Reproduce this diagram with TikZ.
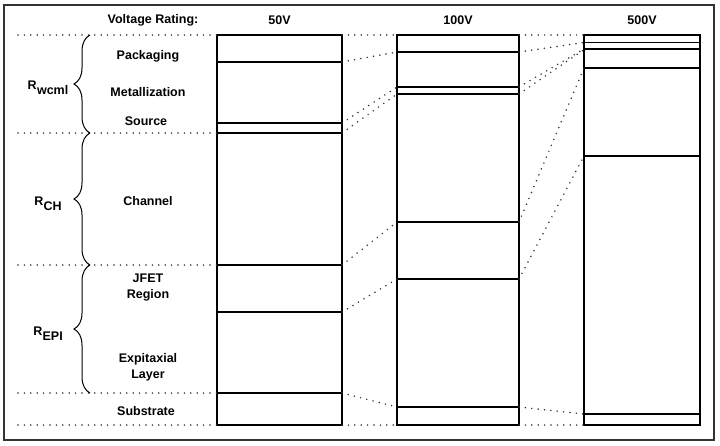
\documentclass[tikz,border=0pt]{standalone}
\usepackage{fontspec}
\setmainfont{Liberation Sans}
\usetikzlibrary{decorations.pathreplacing}
\begin{document}
\begin{tikzpicture}[x=1pt,y=-1pt,
  lbl/.style={font=\fontsize{12.5}{16}\selectfont\bfseries, align=center, inner sep=0pt},
  box/.style={draw=black, line width=1.3pt},
  dots/.style={line width=1.7pt, dash pattern=on 0pt off 6.4pt, line cap=round, black!80},
  brc/.style={decorate, decoration={brace, amplitude=16pt}, line width=1pt},
  frame/.style={draw=black!80, line width=1.5pt}]
\useasboundingbox (0,0) rectangle (720,445);
\draw[frame] (4,5) rectangle (714,440);

% column boundaries
\foreach \n/\y in {0/35,1/62,2/123,3/133,4/265,5/312,6/393,7/425} {
  \coordinate (AL\n) at (217,\y); \coordinate (AR\n) at (342,\y);}
\foreach \n/\y in {0/35,1/52,2/87,3/94,4/222,5/279,6/407,7/425} {
  \coordinate (BL\n) at (397,\y); \coordinate (BR\n) at (519,\y);}
\foreach \n/\y in {0/35,1/42.5,2/49,3/49.6,4/68,5/156,6/414,7/425} {
  \coordinate (CL\n) at (584,\y); \coordinate (CR\n) at (700,\y);}
\foreach \n/\y in {0/35,3/133,4/265,6/393,7/425} {
  \coordinate (L\n) at (18,\y);}

% columns
\draw[box] (AL0) rectangle (AR7);
\draw[box] (BL0) rectangle (BR7);
\draw[box] (CL0) rectangle (CR7);
\foreach \n in {1,...,6} {
  \draw[box] (AL\n) -- (AR\n);
  \draw[box] (BL\n) -- (BR\n);
  \draw[box] (CL\n) -- (CR\n);}

% dotted connectors
\foreach \n in {0,3,4,6,7} { \draw[dots] (L\n) -- (AL\n); }
\foreach \n in {0,...,7} {
  \draw[dots] (AR\n) -- (BL\n);
  \draw[dots] (BR\n) -- (CL\n);}

% braces
\coordinate (b0) at (90,35);
\coordinate (b1) at (90,133);
\coordinate (b2) at (90,265);
\coordinate (b3) at (90,393);
\draw[brc] (b1) -- (b0);
\draw[brc] (b2) -- (b1);
\draw[brc] (b3) -- (b2);

% resistance labels
\node[lbl] (rw) at (48,88) {R\kern0.3pt\raisebox{-5pt}{wcml}};
\node[lbl] (rc) at (48,204) {R\kern0.3pt\raisebox{-5pt}{CH}};
\node[lbl] (re) at (48,334) {R\kern0.3pt\raisebox{-5pt}{EPI}};

% headers
\node[lbl] (vr) at (153,20) {Voltage Rating:};
\node[lbl] (h1) at (279.5,20) {50V};
\node[lbl] (h2) at (458,20) {100V};
\node[lbl] (h3) at (642,20) {500V};

% layer labels
\node[lbl] (pk) at (148,56) {Packaging};
\node[lbl] (mt) at (148,92) {Metallization};
\node[lbl] (sr) at (146,121) {Source};
\node[lbl] (ch) at (148,201) {Channel};
\node[lbl] (jf) at (148,288) {JFET\\Region};
\node[lbl] (ep) at (148,367) {Expitaxial\\Layer};
\node[lbl] (sb) at (146,411) {Substrate};
\end{tikzpicture}
\end{document}
